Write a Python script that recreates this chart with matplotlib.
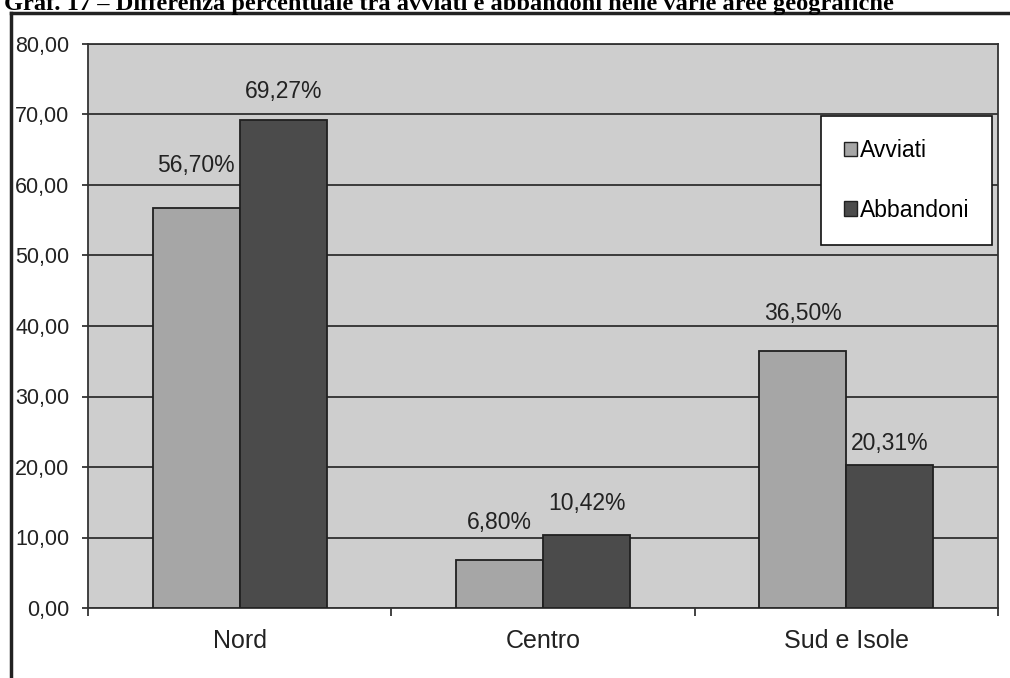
import numpy as np
import matplotlib
matplotlib.use("Agg")
import matplotlib.pyplot as plt
from matplotlib.lines import Line2D
from matplotlib.patches import Patch

# dati del grafico
aree = ["Nord", "Centro", "Sud e Isole"]
avviati = [56.70, 6.80, 36.50]
abbandoni = [69.27, 10.42, 20.31]
serie = ["Avviati", "Abbandoni"]
titolo = "Graf. 17 \u2013 Differenza percentuale tra avviati e abbandoni nelle varie aree geografiche"

# distanza (pixel) delle etichette sopra le barre, come nell'originale
off_avviati = [43, 38, 37]
off_abbandoni = [28, 31, 21]

plt.rcParams["font.family"] = ["Liberation Sans", "DejaVu Sans"]

W, H = 1010, 678
fig = plt.figure(figsize=(W / 100, H / 100), dpi=100)
fig.patch.set_facecolor("white")

# area del grafico in pixel
left, right, top, bottom = 88, 998, 44, 608
ax = fig.add_axes([left / W, 1 - bottom / H, (right - left) / W, (bottom - top) / H])
ax.set_facecolor("#cecece")

x = np.arange(len(aree))
w = 0.287
c_av = "#a6a6a6"
c_ab = "#4b4b4b"

ax.set_axisbelow(True)
ax.yaxis.grid(True, color="#3a3a3a", linewidth=1.4)
b1 = ax.bar(x - w / 2, avviati, w, color=c_av, edgecolor="#202020", linewidth=1.3, zorder=3)
b2 = ax.bar(x + w / 2, abbandoni, w, color=c_ab, edgecolor="#202020", linewidth=1.3, zorder=3)

def fmt(v):
    return f"{v:.2f}%".replace(".", ",")

for i in range(len(aree)):
    ax.annotate(fmt(avviati[i]), (x[i] - w / 2, avviati[i]), xytext=(0, off_avviati[i]),
                textcoords="offset pixels", ha="center", va="center", fontsize=16.5, color="#222222")
    ax.annotate(fmt(abbandoni[i]), (x[i] + w / 2, abbandoni[i]), xytext=(0, off_abbandoni[i]),
                textcoords="offset pixels", ha="center", va="center", fontsize=16.5, color="#222222")

ax.set_xlim(-0.5, len(aree) - 0.5)
ax.set_ylim(0, 80)
ax.set_yticks(np.arange(0, 81, 10))
ax.set_yticklabels([f"{v:.2f}".replace(".", ",") for v in np.arange(0, 81, 10)])
ax.tick_params(axis="y", length=4.5, width=1.2, pad=9, labelsize=15.5, colors="#222222")

ax.set_xticks(x)
ax.set_xticklabels(aree)
ax.set_xticks(np.arange(-0.5, len(aree)), minor=True)
ax.tick_params(axis="x", which="major", length=0, pad=15, labelsize=18, colors="#222222")
ax.tick_params(axis="x", which="minor", length=6, width=1.2, color="#222222")

for s in ax.spines.values():
    s.set_color("#333333")
    s.set_linewidth(1.3)

leg = ax.legend([Patch(facecolor=c_av, edgecolor="#202020"), Patch(facecolor=c_ab, edgecolor="#202020")],
                serie, loc="upper right",
                bbox_to_anchor=((992 - left) / (right - left), (bottom - 116) / (bottom - top)),
                borderaxespad=0, fontsize=16.5, frameon=True, fancybox=False,
                handlelength=0.6, handleheight=0.6, handletextpad=0.1,
                borderpad=1.0, labelspacing=1.6)
leg.get_frame().set_edgecolor("#111111")
leg.get_frame().set_linewidth(1.2)
leg.get_frame().set_facecolor("white")
leg.get_frame().set_alpha(1)

# cornice esterna (solo lati visibili nella scansione)
fig.add_artist(Line2D([11 / W, 11 / W], [0, 1 - 13 / H], color="#222222", linewidth=2.5))
fig.add_artist(Line2D([11 / W, 1], [1 - 13 / H, 1 - 13 / H], color="#222222", linewidth=2.5))

# titolo tagliato in alto
fig.text(4 / W, 1 - 10 / H, titolo, fontsize=17.6, fontweight="bold",
         family=["Liberation Serif", "DejaVu Serif"], ha="left", va="baseline")

fig.savefig("out.png", dpi=100)
